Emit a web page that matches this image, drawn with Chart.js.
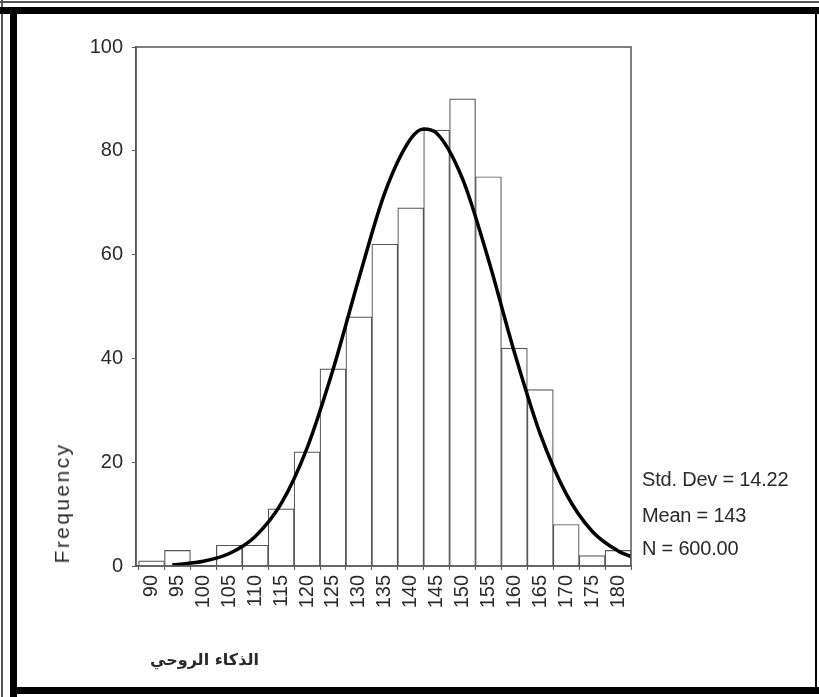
<!DOCTYPE html>
<html lang="ar">
<head>
    <meta charset="UTF-8">
    <title>Frequency histogram</title>
    <script src="https://cdn.jsdelivr.net/npm/chart.js"></script>
    <style>
        body {
            margin: 0;
            background: #fff;
            font-family: "Liberation Sans", Arial, sans-serif;
        }
        #wrap {
            position: relative;
            width: 819px;
            height: 697px;
            overflow: hidden;
        }
        canvas { position: absolute; left: 0; top: 0; }
        .frame { position: absolute; background: #000; }
        .txt { position: absolute; color: #2a2a2a; white-space: nowrap; }
        #ylab {
            left: 62px; top: 503px;
            font-size: 21px; letter-spacing: 2.4px;
            transform: translate(-50%, -50%) rotate(-90deg);
        }
        .stat { left: 642px; font-size: 20px; letter-spacing: -0.2px; }
        #xlab {
            left: 150px; top: 650px;
            font-family: "DejaVu Sans", sans-serif;
            font-weight: bold; font-size: 16px;
        }
    </style>
</head>
<body>
<div id="wrap">
    <canvas id="hist" width="819" height="697"></canvas>

    <!-- page frame -->
    <div class="frame" style="left:0;top:1px;width:819px;height:2px;background:#555"></div>
    <div class="frame" style="left:1px;top:0;width:2px;height:697px;background:#555"></div>
    <div class="frame" style="left:0;top:7px;width:819px;height:7px"></div>
    <div class="frame" style="left:10px;top:7px;width:7px;height:690px"></div>
    <div class="frame" style="left:10px;top:687px;width:809px;height:7px"></div>
    <div class="frame" style="left:815px;top:7px;width:2px;height:687px"></div>

    <div class="txt" id="ylab">Frequency</div>
    <div class="txt stat" style="top:468px">Std. Dev = 14.22</div>
    <div class="txt stat" style="top:504px">Mean = 143</div>
    <div class="txt stat" style="top:537px">N = 600.00</div>
    <div class="txt" id="xlab" dir="rtl">الذكاء الروحي</div>
</div>

<script>
    // bin centres (width 5) and counts
    var binCenters = [90, 95, 100, 105, 110, 115, 120, 125, 130, 135, 140, 145, 150, 155, 160, 165, 170, 175, 180];
    var counts     = [1, 3, 0, 4, 4, 11, 22, 38, 48, 62, 69, 84, 90, 75, 42, 34, 8, 2, 3];

    // normal curve
    var curveX = [94, 95, 100, 105, 110, 115, 120, 125, 130, 135, 140, 142.5, 145, 150, 155, 160, 165, 170, 175, 180, 182.5];
    var curveY = [0.2, 0.3, 0.9, 2.4, 5.7, 12, 22.7, 37.8, 55.4, 71.9, 82.3, 84.2, 83.4, 74.6, 59, 41.2, 25.4, 13.9, 6.7, 2.9, 1.8];

    var yTicks = [0, 20, 40, 60, 80, 100];

    var barData = binCenters.map(function (x, i) { return { x: x, y: counts[i] }; });
    var lineData = curveX.map(function (x, i) { return { x: x, y: curveY[i] }; });

    // box around the plot area
    var plotBox = {
        id: 'plotBox',
        afterDraw: function (chart) {
            var a = chart.chartArea, c = chart.ctx;
            c.save();
            c.strokeStyle = '#555';
            c.lineWidth = 1.5;
            c.strokeRect(a.left, a.top, a.right - a.left, a.bottom - a.top);
            c.restore();
        }
    };

    var ctx = document.getElementById('hist').getContext('2d');
    new Chart(ctx, {
        data: {
            datasets: [{
                type: 'line',
                data: lineData,
                borderColor: '#000',
                borderWidth: 3.5,
                pointRadius: 0,
                cubicInterpolationMode: 'monotone',
                order: 0
            }, {
                type: 'bar',
                data: barData,
                backgroundColor: '#fff',
                borderColor: '#555',
                borderWidth: 1.2,
                barPercentage: 1,
                categoryPercentage: 1,
                order: 1
            }]
        },
        plugins: [plotBox],
        options: {
            responsive: false,
            animation: false,
            layout: { padding: { left: 80, top: 47, right: 188, bottom: 81 } },
            plugins: { legend: { display: false }, tooltip: { enabled: false } },
            scales: {
                x: {
                    type: 'linear',
                    min: 87,
                    max: 182.5,
                    offset: false,
                    afterFit: function (s) { s.height = 50; },
                    afterBuildTicks: function (s) {
                        s.ticks = binCenters.map(function (v) { return { value: v }; });
                    },
                    grid: { drawOnChartArea: false, tickLength: 4, color: '#555' },
                    border: { color: '#555', width: 1.5 },
                    ticks: {
                        autoSkip: false,
                        minRotation: 90,
                        maxRotation: 90,
                        padding: 5,
                        color: '#2a2a2a',
                        font: { family: 'Liberation Sans', size: 20 }
                    }
                },
                y: {
                    min: 0,
                    max: 100,
                    afterFit: function (s) { s.width = 56; },
                    afterBuildTicks: function (s) {
                        s.ticks = yTicks.map(function (v) { return { value: v }; });
                    },
                    grid: { drawOnChartArea: false, tickLength: 4, color: '#555' },
                    border: { color: '#555', width: 1.5 },
                    ticks: {
                        padding: 9,
                        color: '#2a2a2a',
                        font: { family: 'Liberation Sans', size: 20 }
                    }
                }
            }
        }
    });
</script>
</body>
</html>
